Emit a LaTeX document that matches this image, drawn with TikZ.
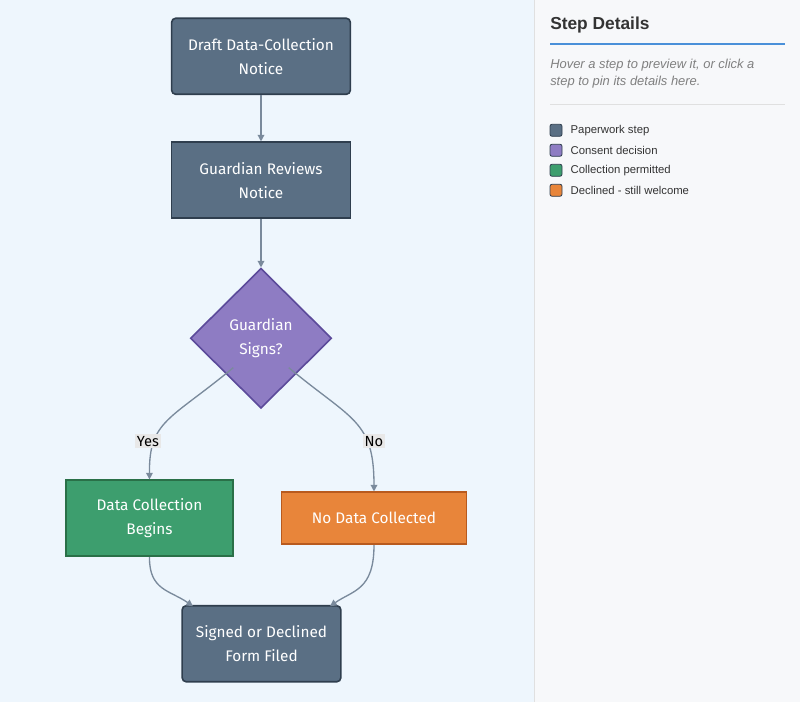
\documentclass[tikz,border=0pt]{standalone}
\usepackage{fontspec}
\setmainfont{Fira Sans}
\newfontfamily\panelfont{Liberation Sans}
\usetikzlibrary{shapes.geometric,arrows.meta}

\definecolor{paperfill}{HTML}{5A6F84}
\definecolor{paperline}{HTML}{2F3E4E}
\definecolor{consentfill}{HTML}{8E7CC3}
\definecolor{consentline}{HTML}{5B4A9A}
\definecolor{okfill}{HTML}{3D9E6E}
\definecolor{okline}{HTML}{2A7048}
\definecolor{nofill}{HTML}{E8853A}
\definecolor{noline}{HTML}{B85A1E}
\definecolor{edgegray}{HTML}{7A8A9C}
\definecolor{leftbg}{HTML}{EEF6FD}
\definecolor{rightbg}{HTML}{F7F8FA}
\definecolor{accent}{HTML}{4A90D9}

\tikzset{
  box/.style={draw=paperline, fill=paperfill, line width=1.2pt, text=white,
    font=\fontsize{11.5}{18}\selectfont, align=center, inner sep=0pt},
  paper/.style={box, minimum width=134pt, minimum height=57pt},
  decision/.style={box, diamond, fill=consentfill, draw=consentline,
    minimum width=106pt, minimum height=105pt, aspect=1},
  flow/.style={draw=edgegray, line width=1pt, -{Triangle[length=5pt,width=5pt]}},
  answer/.style={fill=black!9, inner sep=1.5pt, font=\fontsize{11}{12}\selectfont},
  legend/.style={draw=paperline, rounded corners=1.5pt, line width=0.6pt,
    minimum size=9pt, inner sep=0pt},
}

\begin{document}
\begin{tikzpicture}[x=0.75pt, y=-0.75pt]
  %% panels
  \fill[leftbg] (0,0) rectangle (534,702);
  \fill[rightbg] (534,0) rectangle (800,702);
  \draw[black!12] (534,0) -- (534,702);

  %% flow
  \node[paper, rounded corners=3pt] (draft) at (261,56) {Draft Data-Collection\\Notice};
  \node[paper] (review) at (261,180) {Guardian Reviews\\Notice};
  \node[decision] (signs) at (261,338) {Guardian\\Signs?};
  \node[paper, fill=okfill, draw=okline, minimum width=125pt] (begins) at (149.5,518) {Data Collection\\Begins};
  \node[paper, fill=nofill, draw=noline, minimum width=139pt, minimum height=39pt] (none) at (374,518) {No Data Collected};
  \node[paper, rounded corners=3pt, minimum width=119pt] (filed) at (261.5,643.5) {Signed or Declined\\Form Filed};
  \coordinate (inl) at (193,606);
  \coordinate (inr) at (330,606);

  \draw[flow] (draft) -- (review);
  \draw[flow] (review) -- (signs);
  \draw[flow] (signs.south west) ++(8,-6) .. controls (170,420) and (149,420) .. (begins.north);
  \draw[flow] (signs.south east) ++(-8,-6) .. controls (352,420) and (374,420) .. (none.north);
  \draw[flow] (begins.south) .. controls (149,590) and (170,590) .. (inl);
  \draw[flow] (none.south) .. controls (374,590) and (353,590) .. (inr);
  \node[answer] (yes) at (148,441) {Yes};
  \node[answer] (no) at (374,441) {No};

  %% step details
  \node[anchor=west, inner sep=0pt, font=\panelfont\fontsize{13}{15}\selectfont\bfseries, text=black!80] (title) at (550,25) {Step Details};
  \draw[accent, line width=1.5pt] (550,44) -- (785,44);
  \node[anchor=north west, inner sep=0pt, align=left, text=black!50, font=\panelfont\itshape\fontsize{9.7}{12.2}\selectfont] (hint) at (550,59)
    {Hover a step to preview it, or click a\\step to pin its details here.};
  \draw[black!12] (550,104) -- (785,104);
  \node[legend, fill=paperfill] (k1) at (556,130) {};
  \node[legend, fill=consentfill] (k2) at (556,150) {};
  \node[legend, fill=okfill] (k3) at (556,170) {};
  \node[legend, fill=nofill] (k4) at (556,190) {};
  \foreach \k/\t in {k1/Paperwork step, k2/Consent decision, k3/Collection permitted, k4/Declined - still welcome}
    \node[anchor=west, inner sep=0pt, font=\panelfont\fontsize{8.5}{10}\selectfont, text=black!80] at ([xshift=6pt]\k.east) {\t};
\end{tikzpicture}
\end{document}
